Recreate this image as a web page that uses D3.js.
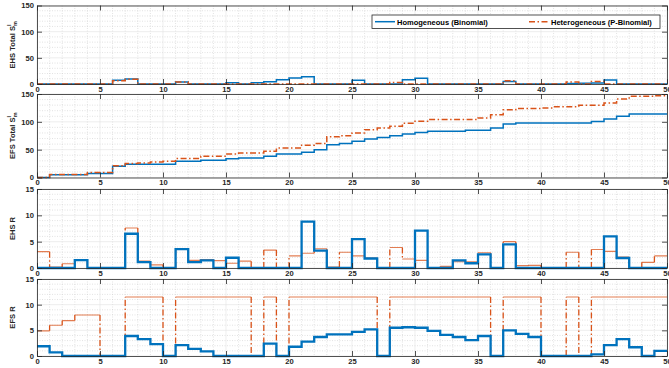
<!DOCTYPE html>
<html>
<head>
<meta charset="utf-8">
<script src="https://cdn.jsdelivr.net/npm/d3@7"></script>
<style>
  body { margin: 0; background: #fff; }
  svg text { font-family: "Liberation Sans", Arial, sans-serif; font-weight: bold; }
</style>
</head>
<body>
<script>
// x runs 0..50, one value per step interval [i, i+1)
const xTickValues = [0, 5, 10, 15, 20, 25, 30, 35, 40, 45, 50];
const totalTickValues = [0, 50, 100, 150];
const rTickValues = [0, 5, 10, 15];
const seriesNames = ['Homogeneous (Binomial)', 'Heterogeneous (P-Binomial)'];

const ehsTotalHom = [0,0,0,0,0,0,7,9.6,0,0, 0,4,0,0,0,2.5,0,2.5,4.5,8, 11.5,14,0,0,0,7,0,0,0,8, 11,0,0,0,0,0,0,5,0,0, 0,0,1,1.5,2,7.7,0,0,0,0];
const ehsTotalHet = [0,0,0,0,0,0,6.4,9,0,0, 0,4,0,0,0,0,0,0,0,0, 0,0,0,0,0,0,0,0,3,0, 0,0,0,0,0,0,0,6,0,0, 0,0,4,0,5,0,0,0,0,0];

const efsTotalHom = [0,5,5,5,7,7,20,24,24,24, 24,29,29,31,31,33.5,35,35,38,42, 42,45.5,50,59,61,65,69,72,75,78, 81,83,83,83,85,85,89,96,98,98, 98,98,98,98,100.6,105,110,114,114,114];
const efsTotalHet = [0,5.5,5.5,5.5,9,9,21,25,26,28, 29,34,34,38,38,42,44,44,47,53, 53,58,61,73,75,80,86,89,92,97.6, 101,104,104,104,104,107,112.7,121.7,124,124, 125,127,127,130,130,133.7,141,146,146,147];

const ehsRHom = [0,0,0,1.5,0,0,0,6.5,1.1,0, 0,3.6,1.1,1.45,0,1.95,0,0,0,0, 0,8.8,3.3,0,0,5.5,1.8,0,0,0, 7.1,0,0,1.45,0.9,2.6,0,4.5,0,0, 0,0,0,0,0,6,1.9,0,0,0];
const ehsRHet = [3.1,0.2,0.8,1.6,0,0,0,7.6,1.3,0.6, 0,3.6,1.45,1.6,1.4,0.9,1.3,0,3.4,0, 2.3,2.8,3.65,0.2,3,2.3,1.9,0,3.9,1.7, 1.45,0,0.3,1.2,1.2,2.9,0,5,0.45,0.5, 0,0,3,0,3.5,3.15,2.1,0,1.07,2.3];

const efsRHom = [1.9,0.7,0,0,0,0,0,3.9,3.3,2.3, 0,2.1,1.4,0.9,0,0,0,0,2.4,0, 1.8,2.8,3.7,4.2,4.2,4.7,5.2,0,5.5,5.6, 5.5,4.9,4.1,3.7,3.1,3.9,0,5,4.3,3.7, 0,0,0,0,0.3,2.1,3.3,1.7,0,1];
const efsRHet = [4.9,6,6.9,8,8,0,0,11.5,11.5,11.5, 0,11.5,11.5,11.5,11.5,11.5,11.5,0,11.5,0, 11.5,11.5,11.5,11.5,11.5,11.5,11.5,0,11.5,11.5, 11.5,11.5,11.5,11.5,11.5,11.5,0,11.5,11.5,11.5, 0,0,11.5,0,11.5,11.5,11.5,11.5,11.5,11.5];

const BLUE = '#0072BD';
const ORANGE = '#D95319';
const AXIS = '#262626';
const DASHDOT = '6,2.5,1.5,2.5';
const FONT_PX = '7.6px';

const LEFT = 37, RIGHT = 667;

const panels = [
  {top: 5.5, bottom: 84, yMax: 150, ticks: totalTickValues, minor: 10, label: 'EHS Total', sub: true,
   hom: ehsTotalHom, het: ehsTotalHet, homWidth: 1.5, hetWidth: 1.5, thin: false},
  {top: 94, bottom: 177.5, yMax: 150, ticks: totalTickValues, minor: 10, label: 'EFS Total', sub: true,
   hom: efsTotalHom, het: efsTotalHet, homWidth: 1.5, hetWidth: 1.5, thin: false},
  {top: 189, bottom: 268, yMax: 15, ticks: rTickValues, minor: 1, label: 'EHS R', sub: false,
   hom: ehsRHom, het: ehsRHet, homWidth: 2.3, hetWidth: 1.1, thin: true},
  {top: 279, bottom: 356, yMax: 15, ticks: rTickValues, minor: 1, label: 'EFS R', sub: false,
   hom: efsRHom, het: efsRHet, homWidth: 2.3, hetWidth: 1.1, thin: true}
];

let svg = d3.select('body').append('svg')
    .attr('width', 669)
    .attr('height', 368);

let xScale = d3.scaleLinear().domain([0, 50]).range([LEFT, RIGHT]);

function stairPoints(values) {
  let pts = values.map(function(v, i) { return [i, v]; });
  pts.push([values.length, values[values.length - 1]]);
  return pts;
}

// horizontal treads only, separated by gaps (null)
function treadPoints(values) {
  let pts = [];
  values.forEach(function(v, i) { pts.push([i, v], [i + 1, v], null); });
  return pts;
}

// vertical risers only
function riserPoints(values) {
  let pts = [];
  for (let i = 1; i < values.length; i++) {
    if (values[i] != values[i - 1]) pts.push([i, values[i - 1]], [i, values[i]], null);
  }
  return pts;
}

panels.forEach(function(p) {
  let yScale = d3.scaleLinear().domain([0, p.yMax]).range([p.bottom, p.top]);
  let g = svg.append('g');

  // minor grid
  let minorX = d3.range(0, 51, 1).filter(function(v) { return v % 5 != 0; });
  let minorY = d3.range(0, p.yMax + 0.001, p.minor).filter(function(v) { return p.ticks.indexOf(v) < 0; });
  g.selectAll('.mx').data(minorX).enter().append('line')
      .attr('x1', function(d) { return xScale(d); }).attr('x2', function(d) { return xScale(d); })
      .attr('y1', p.top).attr('y2', p.bottom)
      .attr('stroke', '#cfcfcf').attr('stroke-width', 0.6).attr('stroke-dasharray', '1,1.5');
  g.selectAll('.my').data(minorY).enter().append('line')
      .attr('x1', LEFT).attr('x2', RIGHT)
      .attr('y1', function(d) { return yScale(d); }).attr('y2', function(d) { return yScale(d); })
      .attr('stroke', '#cfcfcf').attr('stroke-width', 0.6).attr('stroke-dasharray', '1,1.5');
  // major grid
  g.selectAll('.gx').data(xTickValues).enter().append('line')
      .attr('x1', function(d) { return xScale(d); }).attr('x2', function(d) { return xScale(d); })
      .attr('y1', p.top).attr('y2', p.bottom)
      .attr('stroke', '#e3e3e3').attr('stroke-width', 0.6);
  g.selectAll('.gy').data(p.ticks).enter().append('line')
      .attr('x1', LEFT).attr('x2', RIGHT)
      .attr('y1', function(d) { return yScale(d); }).attr('y2', function(d) { return yScale(d); })
      .attr('stroke', '#e3e3e3').attr('stroke-width', 0.6);

  let line = d3.line()
      .defined(function(d) { return d != null; })
      .x(function(d) { return xScale(d[0]); })
      .y(function(d) { return yScale(d[1]); });
  let stepLine = d3.line()
      .x(function(d) { return xScale(d[0]); })
      .y(function(d) { return yScale(d[1]); })
      .curve(d3.curveStepAfter);

  let drawHom = function() {
    g.append('path').attr('d', stepLine(stairPoints(p.hom)))
        .attr('fill', 'none').attr('stroke', BLUE).attr('stroke-width', p.homWidth);
  };
  let drawHet = function() {
    if (p.thin) {
      g.append('path').attr('d', line(treadPoints(p.het)))
          .attr('fill', 'none').attr('stroke', ORANGE).attr('stroke-opacity', 0.75)
          .attr('stroke-width', p.hetWidth);
      g.append('path').attr('d', line(riserPoints(p.het)))
          .attr('fill', 'none').attr('stroke', ORANGE)
          .attr('stroke-width', p.hetWidth + 0.2).attr('stroke-dasharray', DASHDOT);
    } else {
      g.append('path').attr('d', stepLine(stairPoints(p.het)))
          .attr('fill', 'none').attr('stroke', ORANGE).attr('stroke-width', p.hetWidth)
          .attr('stroke-dasharray', DASHDOT);
    }
  };
  if (p.thin) { drawHet(); drawHom(); } else { drawHom(); drawHet(); }

  // axes, ticks pointing inward
  let styleAxis = function(sel) {
    sel.selectAll('path').attr('stroke', AXIS).attr('stroke-width', 0.8);
    sel.selectAll('line').attr('stroke', AXIS).attr('stroke-width', 0.8);
    sel.selectAll('text').attr('fill', AXIS).style('font-size', FONT_PX)
        .style('font-weight', 'bold')
        .style('font-family', '"Liberation Sans", Arial, sans-serif');
  };
  g.append('g').attr('transform', 'translate(0,' + p.bottom + ')')
      .call(d3.axisBottom(xScale).tickValues(xTickValues).tickSize(-5).tickSizeOuter(0).tickPadding(2.5))
      .call(styleAxis);
  g.append('g').attr('transform', 'translate(0,' + p.top + ')')
      .call(d3.axisTop(xScale).tickValues(xTickValues).tickSize(-5).tickSizeOuter(0).tickFormat(''))
      .call(styleAxis);
  g.append('g').attr('transform', 'translate(' + LEFT + ',0)')
      .call(d3.axisLeft(yScale).tickValues(p.ticks).tickSize(-5).tickSizeOuter(0).tickPadding(3))
      .call(styleAxis);
  g.append('g').attr('transform', 'translate(' + RIGHT + ',0)')
      .call(d3.axisRight(yScale).tickValues(p.ticks).tickSize(-5).tickSizeOuter(0).tickFormat(''))
      .call(styleAxis);

  // y label
  let cy = (p.top + p.bottom) / 2;
  let lab = g.append('text')
      .attr('transform', 'translate(14.5,' + cy + ') rotate(-90)')
      .attr('text-anchor', 'middle')
      .attr('fill', AXIS)
      .style('font-size', FONT_PX);
  lab.append('tspan').text(p.sub ? p.label + ' S' : p.label);
  if (p.sub) {
    lab.append('tspan').text('l').style('font-size', '5.5px').attr('dy', -4);
    lab.append('tspan').text('m').style('font-size', '5.5px').attr('dx', -1.5).attr('dy', 6);
  }
});

// legend in the first panel
let legend = svg.append('g');
legend.append('rect')
    .attr('x', 372).attr('y', 15).attr('width', 288).attr('height', 13.5)
    .attr('fill', '#fff').attr('stroke', AXIS).attr('stroke-width', 0.8);
let legendItems = [
  {name: seriesNames[0], color: BLUE, x: 375, dash: null},
  {name: seriesNames[1], color: ORANGE, x: 529, dash: DASHDOT}
];
legendItems.forEach(function(it) {
  legend.append('line')
      .attr('x1', it.x).attr('x2', it.x + 20).attr('y1', 21.7).attr('y2', 21.7)
      .attr('stroke', it.color).attr('stroke-width', 1.5)
      .attr('stroke-dasharray', it.dash);
  legend.append('text')
      .attr('x', it.x + 22).attr('y', 24.5)
      .attr('fill', '#000')
      .style('font-size', '7.5px')
      .text(it.name);
});
</script>
</body>
</html>
